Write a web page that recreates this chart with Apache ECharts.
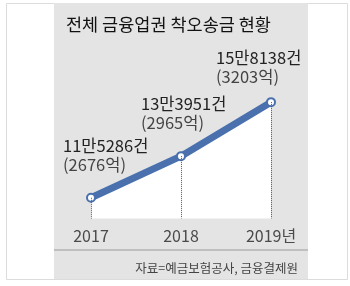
<!DOCTYPE html>
<html>
<head>
<meta charset="utf-8">
<script src="https://cdn.jsdelivr.net/npm/echarts@6/dist/echarts.min.js"></script>
<style>
    html,body{margin:0;padding:0;background:#fff;}
    #chart{width:350px;height:286px;}
</style>
</head>
<body>
<div id="chart"></div>
<script>
    // 데이터
    const years = ['2017', '2018', '2019']
    const counts = [115286, 133951, 158138]
    const countLabels = ['11만5286건', '13만3951건', '15만8138건']
    const amountLabels = ['(2676억)', '(2965억)', '(3203억)']
    const yMin = 106000
    const yMax = 160000

    // 라벨 위치 (점 기준)
    const labelPos = [[-23, -57], [-35, -57], [-50, -49]]

    const chartInstance = echarts.init(document.getElementById('chart'))
    const fontFamily = '"Noto Sans CJK KR", "Noto Sans", sans-serif'

    const seriesData = counts.map((v, i) => {
        return {
            value: v,
            label: {
                position: labelPos[i],
                formatter: '{a|' + countLabels[i] + '}\n{b|' + amountLabels[i] + '}'
            }
        }
    })

    const dropLines = counts.map((v, i) => {
        return [{ coord: [i, v] }, { coord: [i, yMin] }]
    })

    const option = {
        animation: false,
        textStyle: { fontFamily: fontFamily },
        graphic: [
            {
                type: 'rect', z: -10, silent: true,
                shape: { x: 6.5, y: 3.5, width: 341, height: 276 },
                style: { fill: '#fff', stroke: '#dcdcdc', lineWidth: 1 }
            },
            {
                type: 'rect', z: -9, silent: true,
                shape: { x: 54, y: 3, width: 254, height: 276 },
                style: { fill: '#e4e4e4' }
            },
            {
                type: 'line', z: -8, silent: true,
                shape: { x1: 54, y1: 250, x2: 308, y2: 250 },
                style: { stroke: '#9a9a9a', lineWidth: 1.2 }
            }
        ],
        title: [
            {
                text: '전체 금융업권 착오송금 현황',
                left: 61,
                top: 11,
                textStyle: { fontSize: 17.5, fontWeight: 'normal', color: '#111', fontFamily: fontFamily }
            },
            {
                text: '자료=예금보험공사, 금융결제원',
                right: 47,
                top: 257,
                textStyle: { fontSize: 12.5, fontWeight: 'normal', color: '#444', fontFamily: fontFamily }
            }
        ],
        grid: {
            left: 91,
            right: 79,
            top: 98,
            bottom: 67.5
        },
        xAxis: {
            type: 'category',
            data: years,
            boundaryGap: false,
            axisLine: { show: false },
            axisTick: { show: false },
            axisLabel: {
                margin: 9,
                fontSize: 16,
                color: '#4a4a4a',
                formatter: (val, idx) => idx === years.length - 1 ? val + '년' : val
            }
        },
        yAxis: {
            type: 'value',
            min: yMin,
            max: yMax,
            show: false,
            splitLine: { show: false }
        },
        series: [
            {
                type: 'line',
                data: seriesData,
                symbol: 'circle',
                symbolSize: 8,
                showAllSymbol: true,
                itemStyle: { color: '#fff', borderColor: '#4a71ae', borderWidth: 2 },
                lineStyle: { color: '#4a71ae', width: 7 },
                areaStyle: { color: '#fff', opacity: 1, origin: 'start' },
                label: {
                    show: true,
                    align: 'left',
                    verticalAlign: 'top',
                    rich: {
                        a: { fontSize: 16.5, color: '#222', lineHeight: 19, fontFamily: fontFamily },
                        b: { fontSize: 16.5, color: '#444', lineHeight: 19, fontFamily: fontFamily }
                    }
                },
                markLine: {
                    silent: true,
                    symbol: 'none',
                    label: { show: false },
                    lineStyle: { color: '#555', type: 'dotted', width: 1 },
                    data: dropLines
                },
                z: 3
            }
        ]
    }

    chartInstance.setOption(option)
</script>
</body>
</html>
